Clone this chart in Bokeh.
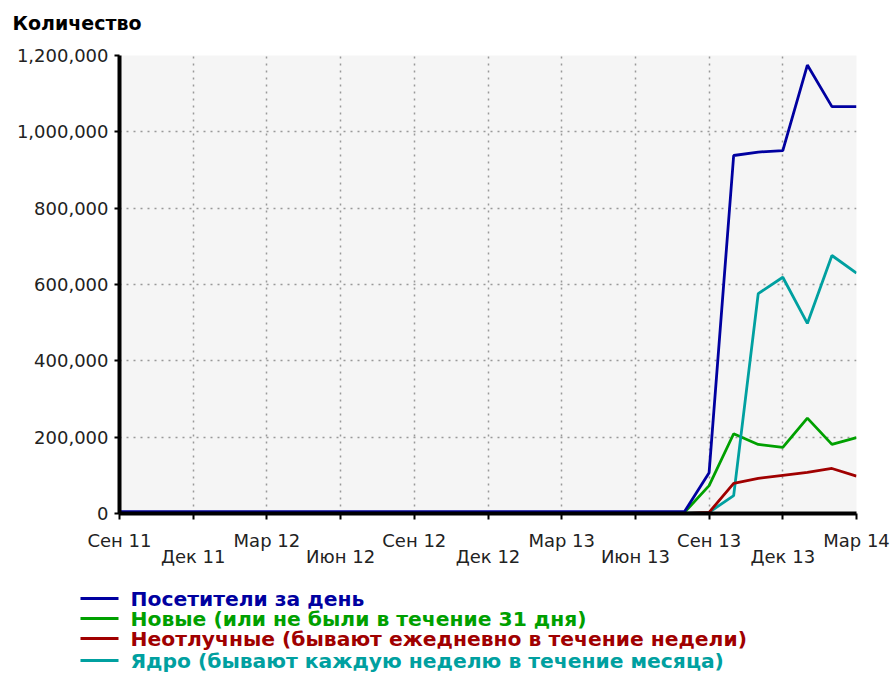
from bokeh.plotting import figure
from bokeh.layouts import column, row
from bokeh.core.properties import value
from bokeh.models import (Range1d, FixedTicker, LinearAxis, NumeralTickFormatter, Grid)
from bokeh.embed import file_html
from bokeh.resources import INLINE

# ---- data (monthly, Sep 2011 .. Mar 2014) ----
months = ["2011-09", "2011-10", "2011-11", "2011-12", "2012-01", "2012-02", "2012-03",
          "2012-04", "2012-05", "2012-06", "2012-07", "2012-08", "2012-09", "2012-10",
          "2012-11", "2012-12", "2013-01", "2013-02", "2013-03", "2013-04", "2013-05",
          "2013-06", "2013-07", "2013-08", "2013-09", "2013-10", "2013-11", "2013-12",
          "2014-01", "2014-02", "2014-03"]

visitors = [5000, 5000, 5000, 5000, 5000, 5000, 5000, 5000, 5000, 5000, 5000, 5000,
            5000, 5000, 5000, 5000, 5000, 5000, 5000, 5000, 5000, 5000, 5000, 5000,
            107000, 938000, 947000, 951000, 1175000, 1066000, 1066000]
new_users = [3000, 3000, 3000, 3000, 3000, 3000, 3000, 3000, 3000, 3000, 3000, 3000,
             3000, 3000, 3000, 3000, 3000, 3000, 3000, 3000, 3000, 3000, 3000, 3000,
             73000, 209000, 181000, 173000, 250000, 181000, 199000]
regulars = [0, 0, 0, 0, 0, 0, 0, 0, 0, 0, 0, 0,
            0, 0, 0, 0, 0, 0, 0, 0, 0, 0, 0, 0,
            3000, 79000, 92000, 100000, 108000, 118000, 98000]
core = [1000, 1000, 1000, 1000, 1000, 1000, 1000, 1000, 1000, 1000, 1000, 1000,
        1000, 1000, 1000, 1000, 1000, 1000, 1000, 1000, 1000, 1000, 1000, 1000,
        3000, 47000, 576000, 619000, 498000, 676000, 630000]

x_tick_pos = [0, 3, 6, 9, 12, 15, 18, 21, 24, 27, 30]
x_tick_labels = ["Сен 11", "Дек 11", "Мар 12", "Июн 12", "Сен 12", "Дек 12",
                 "Мар 13", "Июн 13", "Сен 13", "Дек 13", "Мар 14"]
y_ticks = [0, 200000, 400000, 600000, 800000, 1000000, 1200000]

chart_title = "Количество"
series_names = ["Посетители за день",
                "Новые (или не были в течение 31 дня)",
                "Неотлучные (бывают ежедневно в течение недели)",
                "Ядро (бывают каждую неделю в течение месяца)"]
series_colors = ["#0000a0", "#00a000", "#a00000", "#00a0a0"]

x = list(range(len(months)))
FONT = "DejaVu Sans"
W = 890


def strip(height):
    f = figure(width=W, height=height, x_range=Range1d(0, W), y_range=Range1d(height, 0),
               output_backend="svg", toolbar_location=None,
               x_axis_type=None, y_axis_type=None,
               min_border_left=0, min_border_right=0, min_border_top=0, min_border_bottom=0,
               background_fill_color="white", border_fill_color="white",
               outline_line_color=None)
    f.xgrid.visible = False
    f.ygrid.visible = False
    return f


# ---- header strip with the axis title ----
hd = strip(40)
hd.text(x=[12], y=[22], text=[chart_title], text_font=value(FONT), text_font_size="19px",
        text_font_style="bold", text_color="black", text_baseline="middle", text_align="left")

# ---- main chart ----
p = figure(width=W, height=540, x_range=Range1d(0, 30), y_range=Range1d(0, 1200000),
           output_backend="svg", toolbar_location=None,
           x_axis_type=None, y_axis_type=None,
           min_border_left=119, min_border_right=34, min_border_top=15, min_border_bottom=67,
           background_fill_color="#f5f5f5", border_fill_color="white",
           outline_line_color=None)

p.add_layout(Grid(dimension=0, ticker=FixedTicker(ticks=x_tick_pos),
                  grid_line_color="#999999", grid_line_dash="2 5", grid_line_width=1.5))
p.add_layout(Grid(dimension=1, ticker=FixedTicker(ticks=y_ticks),
                  grid_line_color="#999999", grid_line_dash="2 5", grid_line_width=1.5))

ya = LinearAxis(ticker=FixedTicker(ticks=y_ticks), formatter=NumeralTickFormatter(format="0,0"))
ya.axis_line_width = 4
ya.axis_line_color = "black"
ya.major_tick_out = 5
ya.major_tick_in = 0
ya.major_tick_line_width = 2
ya.major_tick_line_color = "black"
ya.minor_tick_line_color = None
ya.major_label_standoff = 6
ya.major_label_text_font = FONT
ya.major_label_text_font_size = "18px"
ya.major_label_text_color = "#222222"
p.add_layout(ya, "left")

upper_over = {}
lower_over = {}
for i, (t, lab) in enumerate(zip(x_tick_pos, x_tick_labels)):
    if i % 2 == 0:
        upper_over[t] = lab
    else:
        upper_over[t] = ""
        lower_over[t] = lab

xa = LinearAxis(ticker=FixedTicker(ticks=x_tick_pos), major_label_overrides=upper_over)
xa.axis_line_width = 4
xa.axis_line_color = "black"
xa.major_tick_out = 6
xa.major_tick_in = 0
xa.major_tick_line_width = 2
xa.major_tick_line_color = "black"
xa.minor_tick_line_color = None
xa.major_label_standoff = 10
xa.major_label_text_font = FONT
xa.major_label_text_font_size = "18px"
xa.major_label_text_color = "#222222"
p.add_layout(xa, "below")

xb = LinearAxis(ticker=FixedTicker(ticks=x_tick_pos[1::2]), major_label_overrides=lower_over)
xb.axis_line_color = None
xb.major_tick_line_color = None
xb.minor_tick_line_color = None
xb.major_tick_out = 0
xb.major_tick_in = 0
xb.major_label_standoff = -8
xb.major_label_text_font = FONT
xb.major_label_text_font_size = "18px"
xb.major_label_text_color = "#222222"
p.add_layout(xb, "below")

data = [visitors, new_users, regulars, core]
for k in [1, 3, 0, 2]:
    p.line(x, data[k], line_color=series_colors[k], line_width=2.8)

# ---- legend strip ----
lg = strip(95)
row_y = [18, 38, 58, 80]
lg.segment(x0=[80] * 4, x1=[118] * 4, y0=row_y, y1=row_y,
           line_color=series_colors, line_width=2.8)
lg.text(x=[130] * 4, y=row_y, text=series_names, text_color=series_colors,
        text_font=value(FONT), text_font_size="20.3px", text_font_style="bold",
        text_baseline="middle", text_align="left")

layout = column(row(hd), p, row(lg), spacing=0)
open("out.html", "w").write(file_html(layout, INLINE))
